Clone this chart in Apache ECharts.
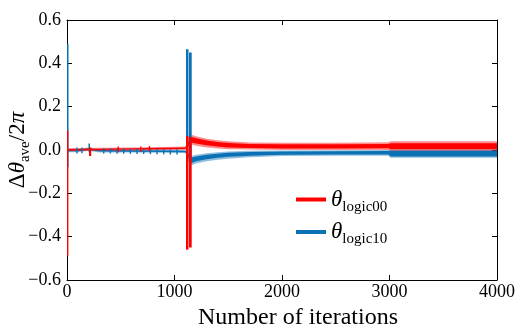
<!DOCTYPE html>
<html><head><meta charset="utf-8">
<script src="https://cdn.jsdelivr.net/npm/echarts@6/dist/echarts.min.js"></script>
<style>html,body{margin:0;padding:0;background:#fff}#c{width:519px;height:327px}</style>
</head><body><div id="c"></div>
<script>
// ---- axes ----
const xMin = 0, xMax = 4000, xStep = 1000;
const yMin = -0.6, yMax = 0.6, yStep = 0.2;
const seriesNames = ['logic00', 'logic10'];
const redColor = '#ff0000';
const blueColor = '#0a72b4';

// ---- noisy bands: [iteration, outerLo, coreLo, coreHi, outerHi] ----
const redBand = [
  [0,    -0.006, -0.002, 0.004, 0.008],
  [300,  -0.004,  0.000, 0.006, 0.010],
  [600,  -0.002,  0.002, 0.008, 0.012],
  [900,   0.000,  0.004, 0.010, 0.014],
  [1100,  0.001,  0.005, 0.012, 0.016],
  [1160,  0.025,  0.035, 0.060, 0.070],
  [1200,  0.020,  0.030, 0.054, 0.064],
  [1300,  0.012,  0.022, 0.044, 0.052],
  [1400,  0.007,  0.016, 0.037, 0.045],
  [1500,  0.004,  0.012, 0.032, 0.040],
  [1700,  0.002,  0.009, 0.028, 0.035],
  [2000,  0.000,  0.007, 0.026, 0.033],
  [2500,  0.000,  0.007, 0.027, 0.034],
  [2990,  0.000,  0.008, 0.028, 0.036],
  [3010, -0.003,  0.005, 0.031, 0.040],
  [4000, -0.003,  0.005, 0.031, 0.040]
];
const blueBand = [
  [0,    -0.010, -0.006,  0.002,  0.006],
  [100,  -0.010, -0.006,  0.002,  0.006],
  [200,  -0.004,  0.000,  0.007,  0.011],
  [300,  -0.011, -0.007,  0.000,  0.004],
  [600,  -0.012, -0.008, -0.001,  0.003],
  [900,  -0.013, -0.009, -0.002,  0.002],
  [1100, -0.014, -0.010, -0.003,  0.001],
  [1160, -0.070, -0.060, -0.035, -0.028],
  [1200, -0.062, -0.052, -0.030, -0.022],
  [1300, -0.052, -0.043, -0.022, -0.015],
  [1400, -0.045, -0.036, -0.017, -0.010],
  [1500, -0.040, -0.031, -0.013, -0.007],
  [1700, -0.034, -0.026, -0.009, -0.004],
  [2000, -0.028, -0.022, -0.007, -0.002],
  [2500, -0.027, -0.021, -0.006, -0.001],
  [2990, -0.027, -0.021, -0.005,  0.000],
  [3010, -0.036, -0.030, -0.003,  0.003],
  [4000, -0.036, -0.030, -0.003,  0.003]
];

// ---- spikes: [fromIteration, toIteration, low, high] ----
const redSpikes = [
  [0, 12, -0.49, 0.09],
  [205, 225, -0.028, 0.012],
  [470, 478, -0.010, 0.016],
  [680, 688, -0.008, 0.016],
  [760, 768, -0.006, 0.018],
  [1107, 1130, -0.46, 0.065],
  [1135, 1160, -0.45, 0.060]
];
const blueSpikes = [
  [0, 14, -0.08, 0.49],
  [86, 95, -0.016, 0.012],
  [133, 142, -0.015, 0.012],
  [200, 214, -0.010, 0.030],
  [335, 343, -0.016, 0.008],
  [397, 405, -0.016, 0.008],
  [459, 467, -0.017, 0.007],
  [521, 529, -0.017, 0.007],
  [583, 591, -0.018, 0.006],
  [645, 653, -0.018, 0.006],
  [707, 715, -0.019, 0.005],
  [769, 777, -0.019, 0.005],
  [831, 839, -0.020, 0.004],
  [893, 901, -0.020, 0.004],
  [955, 963, -0.021, 0.003],
  [1017, 1025, -0.021, 0.003],
  [1107, 1130, -0.055, 0.465],
  [1135, 1160, -0.055, 0.450]
];

const FONT = '"Liberation Serif", "Times New Roman", serif';

function bandRender(rows, color) {
  return function (params, api) {
    if (params.dataIndex !== 0) return null;
    const poly = (loK, hiK) => {
      const top = rows.map(r => api.coord([r[0], r[hiK]]));
      const bot = rows.slice().reverse().map(r => api.coord([r[0], r[loK]]));
      return top.concat(bot);
    };
    return {
      type: 'group',
      children: [
        { type: 'polygon', shape: { points: poly(1, 4) }, style: { fill: color, opacity: 0.45 } },
        { type: 'polygon', shape: { points: poly(2, 3) }, style: { fill: color } }
      ]
    };
  };
}
function spikeRender(color) {
  return function (params, api) {
    const p0 = api.coord([api.value(0), api.value(3)]);
    const p1 = api.coord([api.value(1), api.value(2)]);
    const w = Math.max(1.4, p1[0] - p0[0]);
    return { type: 'rect', shape: { x: p0[0], y: p0[1], width: w, height: p1[1] - p0[1] }, style: { fill: color } };
  };
}

const chart = echarts.init(document.getElementById('c'), null, { renderer: 'canvas' });
const axisCommon = {
  type: 'value',
  axisLine: { show: true, onZero: false, lineStyle: { color: '#000', width: 1 } },
  axisTick: { show: true, inside: true, length: 5, lineStyle: { color: '#000', width: 1 } },
  splitLine: { show: false }
};
chart.setOption({
  animation: false,
  backgroundColor: '#fff',
  textStyle: { fontFamily: FONT },
  grid: { left: 67, right: 22, top: 20, bottom: 47, containLabel: false, outerBoundsMode: 'none' },
  legend: {
    orient: 'vertical', left: 291, top: 183, itemWidth: 30, itemHeight: 4, itemGap: 6,
    data: [
      { name: seriesNames[0], icon: 'rect', itemStyle: { color: redColor } },
      { name: seriesNames[1], icon: 'rect', itemStyle: { color: blueColor } }
    ],
    formatter: n => '{t|θ}{s|' + n + '}',
    textStyle: {
      fontFamily: FONT,
      rich: {
        t: { fontFamily: FONT, fontStyle: 'italic', fontSize: 23, lineHeight: 30, color: '#000' },
        s: { fontFamily: FONT, fontSize: 15, lineHeight: 22, verticalAlign: 'bottom', color: '#000' }
      }
    }
  },
  xAxis: [
    Object.assign({}, axisCommon, {
      min: xMin, max: xMax, interval: xStep, position: 'bottom',
      axisLabel: { fontFamily: FONT, fontSize: 18, fontWeight: 'normal', color: '#000', margin: 3,
        formatter: v => String(v) },
      name: 'Number of iterations', nameLocation: 'middle', nameGap: 21,
      nameTextStyle: { fontFamily: FONT, fontSize: 24, color: '#000', padding: [0, 0, 0, 32] }
    }),
    Object.assign({}, axisCommon, {
      min: xMin, max: xMax, interval: xStep, position: 'top', axisLabel: { show: false }
    })
  ],
  yAxis: [
    Object.assign({}, axisCommon, {
      min: yMin, max: yMax, interval: yStep, position: 'left',
      axisLabel: {
        fontFamily: FONT, fontSize: 18, fontWeight: 'normal', color: '#000', margin: 6,
        formatter: v => (v < -1e-9 ? '\u2212' : '') + Math.abs(v).toFixed(1)
      },
      name: '{n|Δ}{i|θ}{s|ave}{n|/2}{i|π}', nameLocation: 'middle', nameRotate: 90, nameGap: 34,
      nameMoveOverlap: false,
      nameTextStyle: {
        fontFamily: FONT,
        rich: {
          n: { fontFamily: FONT, fontSize: 23, lineHeight: 30, color: '#000' },
          i: { fontFamily: FONT, fontStyle: 'italic', fontSize: 23, lineHeight: 30, color: '#000' },
          s: { fontFamily: FONT, fontSize: 15, lineHeight: 22, verticalAlign: 'bottom', color: '#000' }
        }
      }
    }),
    Object.assign({}, axisCommon, {
      min: yMin, max: yMax, interval: yStep, position: 'right', axisLabel: { show: false }
    })
  ],
  series: [
    { name: seriesNames[1], type: 'custom', z: 2, clip: true, itemStyle: { color: blueColor },
      renderItem: bandRender(blueBand, blueColor), data: blueBand },
    { name: seriesNames[0], type: 'custom', z: 3, clip: true, itemStyle: { color: redColor },
      renderItem: bandRender(redBand, redColor), data: redBand },
    { name: seriesNames[1], type: 'custom', z: 4, clip: true, itemStyle: { color: blueColor },
      renderItem: spikeRender(blueColor), data: blueSpikes },
    { name: seriesNames[0], type: 'custom', z: 5, clip: true, itemStyle: { color: redColor },
      renderItem: spikeRender(redColor), data: redSpikes }
  ]
});
</script>
</body></html>
